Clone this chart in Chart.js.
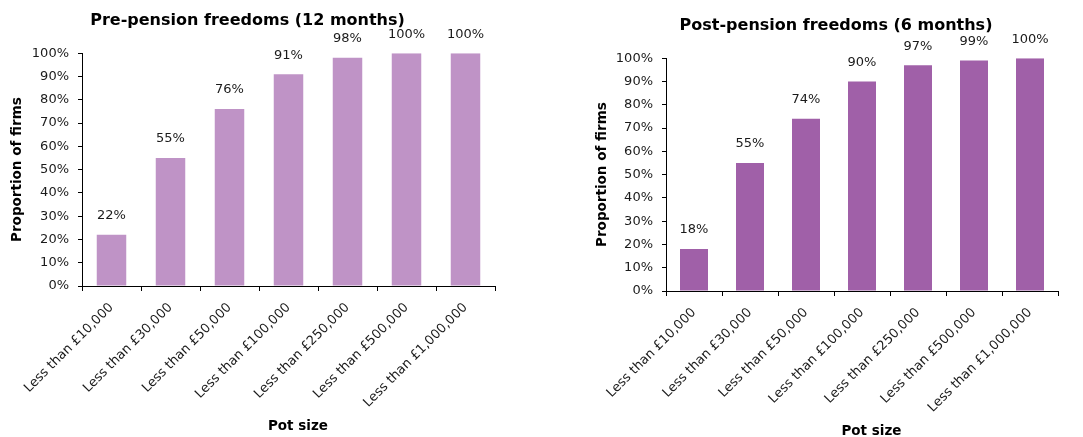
<!DOCTYPE html>
<html>
<head>
<meta charset="utf-8">
<script src="https://cdn.jsdelivr.net/npm/chart.js@4"></script>
<style>
  html, body { margin: 0; padding: 0; background: #fff; }
  #wrap { position: relative; width: 1083px; height: 437px; }
  #left { position: absolute; left: 0; top: 0; }
  #right { position: absolute; left: 540px; top: 0; }
</style>
</head>
<body>
<div id="wrap">
  <canvas id="left" width="540" height="437"></canvas>
  <canvas id="right" width="543" height="437"></canvas>
</div>
<script>
const potSizes = [
  'Less than £10,000',
  'Less than £30,000',
  'Less than £50,000',
  'Less than £100,000',
  'Less than £250,000',
  'Less than £500,000',
  'Less than £1,000,000'
];
const preFreedoms = [22, 55, 76, 91, 98, 100, 100];
const postFreedoms = [18, 55, 74, 90, 97, 99, 100];

const FONT = 'DejaVu Sans, Verdana, sans-serif';
const TEXT = '#1a1a1a';

// draws the value above each bar
const valueLabels = {
  id: 'valueLabels',
  afterDatasetsDraw(chart) {
    const ctx = chart.ctx;
    ctx.save();
    ctx.font = '13px ' + FONT;
    ctx.fillStyle = TEXT;
    ctx.textAlign = 'center';
    ctx.textBaseline = 'middle';
    chart.getDatasetMeta(0).data.forEach((bar, i) => {
      const v = chart.data.datasets[0].data[i];
      ctx.fillText(v + '%', bar.x, bar.y - 19);
    });
    ctx.restore();
  }
};

function makeChart(id, title, values, color, opts) {
  return new Chart(document.getElementById(id), {
    type: 'bar',
    data: {
      labels: potSizes,
      datasets: [{
        data: values,
        backgroundColor: color,
        categoryPercentage: 1,
        barPercentage: 0.5
      }]
    },
    options: {
      responsive: false,
      animation: false,
      layout: { padding: { left: opts.padLeft, right: opts.padRight, top: 0, bottom: 0 } },
      plugins: {
        legend: { display: false },
        tooltip: { enabled: false },
        title: {
          display: true,
          text: title,
          color: '#000',
          font: { family: FONT, size: 16, weight: 'bold' },
          padding: { top: opts.titleTop, bottom: 23 }
        }
      },
      scales: {
        x: {
          grid: { drawOnChartArea: false, tickLength: 5, color: '#000' },
          border: { color: '#000' },
          ticks: {
            minRotation: 45, maxRotation: 45, padding: 9,
            color: TEXT, font: { family: FONT, size: 13 }
          },
          title: {
            display: true, text: '    Pot size', color: '#000',
            font: { family: FONT, size: 13.5, weight: 'bold' },
            padding: { top: 0, bottom: opts.potBottom }
          },
          afterFit: s => { s.height = opts.xHeight; }
        },
        y: {
          min: 0, max: 100,
          grid: { drawOnChartArea: false, tickLength: 4, color: '#000' },
          border: { color: '#000' },
          ticks: {
            stepSize: 10, padding: 9, color: TEXT,
            font: { family: FONT, size: 13 },
            callback: v => v + '%'
          },
          title: {
            display: true, text: 'Proportion of firms', color: '#000',
            font: { family: FONT, size: 13.5, weight: 'bold' },
            padding: { top: opts.yTitlePad, bottom: 0 }
          },
          afterFit: s => { s.width = opts.yWidth; }
        }
      }
    },
    plugins: [valueLabels]
  });
}

makeChart('left', 'Pre-pension freedoms (12 months)', preFreedoms, '#bf93c6',
  { padLeft: 0, padRight: 45, titleTop: 11, xHeight: 151, potBottom: 2,
    yWidth: 82, yTitlePad: 9 });
makeChart('right', 'Post-pension freedoms (6 months)', postFreedoms, '#a060a8',
  { padLeft: 74, padRight: 25, titleTop: 16, xHeight: 146, potBottom: -3,
    yWidth: 52, yTitlePad: -20 });
</script>
</body>
</html>
